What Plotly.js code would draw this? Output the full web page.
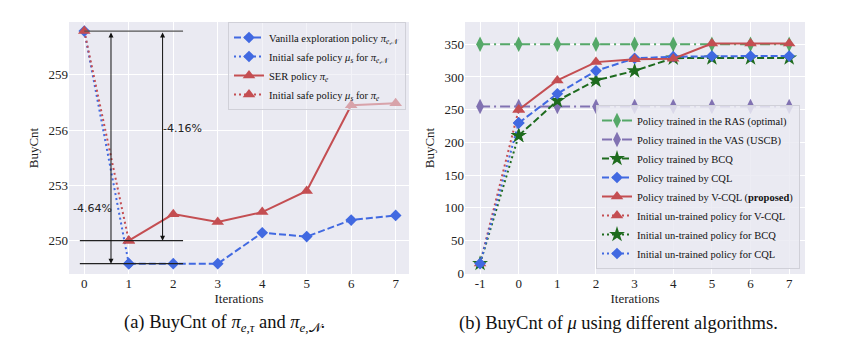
<!DOCTYPE html>
<html>
<head>
<meta charset="utf-8">
<script src="https://cdn.plot.ly/plotly-3.0.1.min.js"></script>
<style>html,body{margin:0;padding:0;background:#fff;}#chart{width:844px;height:342px;}</style>
</head>
<body>
<div id="chart"></div>
<script>
// ---------- Data: left panel (a) ----------
const leftIters = [1, 2, 3, 4, 5, 6, 7];
const leftInitIters = [0, 1];
const vanillaVals = [248.75, 248.75, 248.75, 250.43, 250.22, 251.12, 251.37];
const serVals = [250.0, 251.44, 251.01, 251.55, 252.70, 257.35, 257.46];
const initVanillaVals = [261.38, 248.75];
const initSerVals = [261.38, 250.0];
const leftYTicks = [250, 253, 256, 259];
const leftXTicks = [0, 1, 2, 3, 4, 5, 6, 7];
const leftXLabels = ['0', '1', '2', '3', '4', '5', '6', '7'];
// reference levels and annotations
const refLevels = [261.38, 250.0, 248.75];
const refLineX = [-0.1, 2.22];
const arrowX = [0.6, 1.76];
const pctLabels = ["-4.64%", "-4.16%"];
const pctLabelPos = [[0.18, 251.77], [2.2, 256.1]];

// ---------- Data: right panel (b) ----------
const rightAllIters = [-1, 0, 1, 2, 3, 4, 5, 6, 7];
const rightIters = [0, 1, 2, 3, 4, 5, 6, 7];
const rasVals = [350, 350, 350, 350, 350, 350, 350, 350, 350];
const vasVals = [255, 255, 255, 255, 255, 255, 255, 255, 255];
const bcqVals = [210.5, 263.8, 294.7, 309.4, 328.8, 329, 329, 329];
const cqlVals = [229.8, 274.4, 309.4, 328.5, 331, 332, 332, 332];
const vcqlVals = [250, 294.7, 322.7, 327, 328, 351, 351, 351];
const initIters = [-1, 0];
const initStart = 15;
const rightYTicks = [0, 50, 100, 150, 200, 250, 300, 350];
const rightXTicks = [-1, 0, 1, 2, 3, 4, 5, 6, 7];
const rightXLabels = ['-1', '0', '1', '2', '3', '4', '5', '6', '7'];

// ---------- Styles ----------
const BLUE = '#4169E1', RED = '#C44E52', GREEN = '#55A868', PURPLE = '#8172B2', DGREEN = '#1E6B1E';
const FONT = 'Liberation Serif';
const DASH = '7px,3px', DOT = '2px,3px', DASHDOT = '10px,4px,2px,4px';

const traces = [
  {x: leftIters, y: vanillaVals, xaxis: 'x', yaxis: 'y', mode: 'lines+markers', legend: 'legend',
   name: 'Vanilla exploration policy <i>π</i><sub><i>e</i>,𝒩</sub>',
   line: {color: BLUE, width: 2, dash: DASH}, marker: {symbol: 'diamond', size: 9, color: BLUE}},
  {x: leftInitIters, y: initVanillaVals, xaxis: 'x', yaxis: 'y', mode: 'lines+markers', legend: 'legend',
   name: 'Initial safe policy <i>μ<sub>s</sub></i> for <i>π</i><sub><i>e</i>,𝒩</sub>',
   line: {color: BLUE, width: 2, dash: DOT}, marker: {symbol: 'diamond', size: 9, color: BLUE}},
  {x: leftIters, y: serVals, xaxis: 'x', yaxis: 'y', mode: 'lines+markers', legend: 'legend',
   name: 'SER policy <i>π<sub>e</sub></i>',
   line: {color: RED, width: 2}, marker: {symbol: 'triangle-up', size: 11, color: RED}},
  {x: leftInitIters, y: initSerVals, xaxis: 'x', yaxis: 'y', mode: 'lines+markers', legend: 'legend',
   name: 'Initial safe policy <i>μ<sub>s</sub></i> for <i>π<sub>e</sub></i>',
   line: {color: RED, width: 2, dash: DOT}, marker: {symbol: 'triangle-up', size: 11, color: RED}},

  {x: rightAllIters, y: rasVals, xaxis: 'x2', yaxis: 'y2', mode: 'lines+markers', legend: 'legend2',
   name: 'Policy trained in the RAS (optimal)',
   line: {color: GREEN, width: 2, dash: DASHDOT}, marker: {symbol: 'diamond-tall', size: 11, color: GREEN}},
  {x: rightAllIters, y: vasVals, xaxis: 'x2', yaxis: 'y2', mode: 'lines+markers', legend: 'legend2',
   name: 'Policy trained in the VAS (USCB)',
   line: {color: PURPLE, width: 2, dash: DASHDOT}, marker: {symbol: 'diamond-tall', size: 11, color: PURPLE}},
  {x: rightIters, y: bcqVals, xaxis: 'x2', yaxis: 'y2', mode: 'lines+markers', legend: 'legend2',
   name: 'Policy trained by BCQ',
   line: {color: DGREEN, width: 2, dash: DASH}, marker: {symbol: 'star', size: 12, color: DGREEN}},
  {x: rightIters, y: cqlVals, xaxis: 'x2', yaxis: 'y2', mode: 'lines+markers', legend: 'legend2',
   name: 'Policy trained by CQL',
   line: {color: BLUE, width: 2, dash: DASH}, marker: {symbol: 'diamond', size: 9, color: BLUE}},
  {x: rightIters, y: vcqlVals, xaxis: 'x2', yaxis: 'y2', mode: 'lines+markers', legend: 'legend2',
   name: 'Policy trained by V-CQL (<b>proposed</b>)',
   line: {color: RED, width: 2}, marker: {symbol: 'triangle-up', size: 11, color: RED}},
  {x: initIters, y: [initStart, vcqlVals[0]], xaxis: 'x2', yaxis: 'y2', mode: 'lines+markers', legend: 'legend2',
   name: 'Initial un-trained policy for V-CQL',
   line: {color: RED, width: 2, dash: DOT}, marker: {symbol: 'triangle-up', size: 11, color: RED}},
  {x: initIters, y: [initStart, bcqVals[0]], xaxis: 'x2', yaxis: 'y2', mode: 'lines+markers', legend: 'legend2',
   name: 'Initial un-trained policy for BCQ',
   line: {color: DGREEN, width: 2, dash: DOT}, marker: {symbol: 'star', size: 12, color: DGREEN}},
  {x: initIters, y: [initStart, cqlVals[0]], xaxis: 'x2', yaxis: 'y2', mode: 'lines+markers', legend: 'legend2',
   name: 'Initial un-trained policy for CQL',
   line: {color: BLUE, width: 2, dash: DOT}, marker: {symbol: 'diamond', size: 9, color: BLUE}}
];

const shapes = refLevels.map((lv, i) => ({
  type: 'line', xref: 'x', yref: 'y', x0: i === 0 ? 0 : refLineX[0], x1: refLineX[1], y0: lv, y1: lv,
  line: {color: i === 0 ? '#555' : '#222', width: 1.2}, layer: 'above'
}));

const annotations = [
  // double-headed arrows
  {xref: 'x', yref: 'y', axref: 'x', ayref: 'y', x: arrowX[0], y: refLevels[2], ax: arrowX[0], ay: refLevels[0],
   showarrow: true, arrowside: 'end+start', arrowhead: 2, arrowsize: 1, arrowwidth: 1, arrowcolor: '#111', text: ''},
  {xref: 'x', yref: 'y', axref: 'x', ayref: 'y', x: arrowX[1], y: refLevels[1], ax: arrowX[1], ay: refLevels[0],
   showarrow: true, arrowside: 'end+start', arrowhead: 2, arrowsize: 1, arrowwidth: 1, arrowcolor: '#111', text: ''},
  {xref: 'x', yref: 'y', x: pctLabelPos[0][0], y: pctLabelPos[0][1], text: pctLabels[0], showarrow: false,
   xanchor: 'center', font: {family: 'DejaVu Sans', size: 11, color: '#222'}},
  {xref: 'x', yref: 'y', x: pctLabelPos[1][0], y: pctLabelPos[1][1], text: pctLabels[1], showarrow: false,
   xanchor: 'center', font: {family: 'DejaVu Sans', size: 11, color: '#222'}},
  // captions
  {xref: 'paper', yref: 'paper', x: 224 / 844, y: 1 - 323 / 342, xanchor: 'center', yanchor: 'middle', showarrow: false,
   text: '(a) BuyCnt of <i>π</i><sub><i>e</i>,<i>τ</i></sub> and <i>π</i><sub><i>e</i>,𝒩</sub>.', font: {family: FONT, size: 18.5, color: '#111'}},
  {xref: 'paper', yref: 'paper', x: 618 / 844, y: 1 - 323 / 342, xanchor: 'center', yanchor: 'middle', showarrow: false,
   text: '(b) BuyCnt of <i>μ</i> using different algorithms.', font: {family: FONT, size: 18.5, color: '#111'}}
];

const axisCommon = {
  showgrid: true, gridcolor: '#ffffff', gridwidth: 1, zeroline: false, showline: false, ticks: '',
  tickfont: {family: FONT, size: 13, color: '#222'}
};
const yDom = [1 - 274 / 342, 1 - 22 / 342];
const legendCommon = {bordercolor: '#d0d0d8', borderwidth: 1,
  font: {family: FONT, size: 10.5, color: '#111'}, tracegroupgap: 0, itemwidth: 30};

const layout = {
  width: 844, height: 342, margin: {l: 0, r: 0, t: 0, b: 0},
  paper_bgcolor: '#ffffff', plot_bgcolor: '#EAEAF2', showlegend: true,
  xaxis: Object.assign({}, axisCommon, {domain: [69 / 844, 409 / 844], range: [-0.344, 7.30],
    tickmode: 'array', tickvals: leftXTicks, ticktext: leftXLabels,
    anchor: 'y', title: {text: 'Iterations', font: {family: FONT, size: 13, color: '#222'}, standoff: 2}}),
  yaxis: Object.assign({}, axisCommon, {domain: yDom, range: [248.19, 261.87], tickmode: 'array', tickvals: leftYTicks,
    anchor: 'x', title: {text: 'BuyCnt', font: {family: FONT, size: 13, color: '#222'}, standoff: 6}}),
  xaxis2: Object.assign({}, axisCommon, {domain: [465 / 844, 805 / 844], range: [-1.39, 7.41],
    tickmode: 'array', tickvals: rightXTicks, ticktext: rightXLabels,
    anchor: 'y2', title: {text: 'Iterations', font: {family: FONT, size: 13, color: '#222'}, standoff: 2}}),
  yaxis2: Object.assign({}, axisCommon, {domain: yDom, range: [-1, 384], tickmode: 'array', tickvals: rightYTicks,
    anchor: 'x2', title: {text: 'BuyCnt', font: {family: FONT, size: 13, color: '#222'}, standoff: 6}}),
  legend: Object.assign({}, legendCommon, {bgcolor: 'rgba(234,234,242,0.55)', x: 406 / 844, xanchor: 'right', y: 1 - 22 / 342, yanchor: 'top'}),
  legend2: Object.assign({}, legendCommon, {bgcolor: 'rgba(234,234,242,0.85)', x: 800 / 844, xanchor: 'right', y: 1 - 269 / 342, yanchor: 'bottom'}),
  shapes: shapes,
  annotations: annotations
};

Plotly.newPlot('chart', traces, layout, {staticPlot: true, displayModeBar: false});
</script>
</body>
</html>
